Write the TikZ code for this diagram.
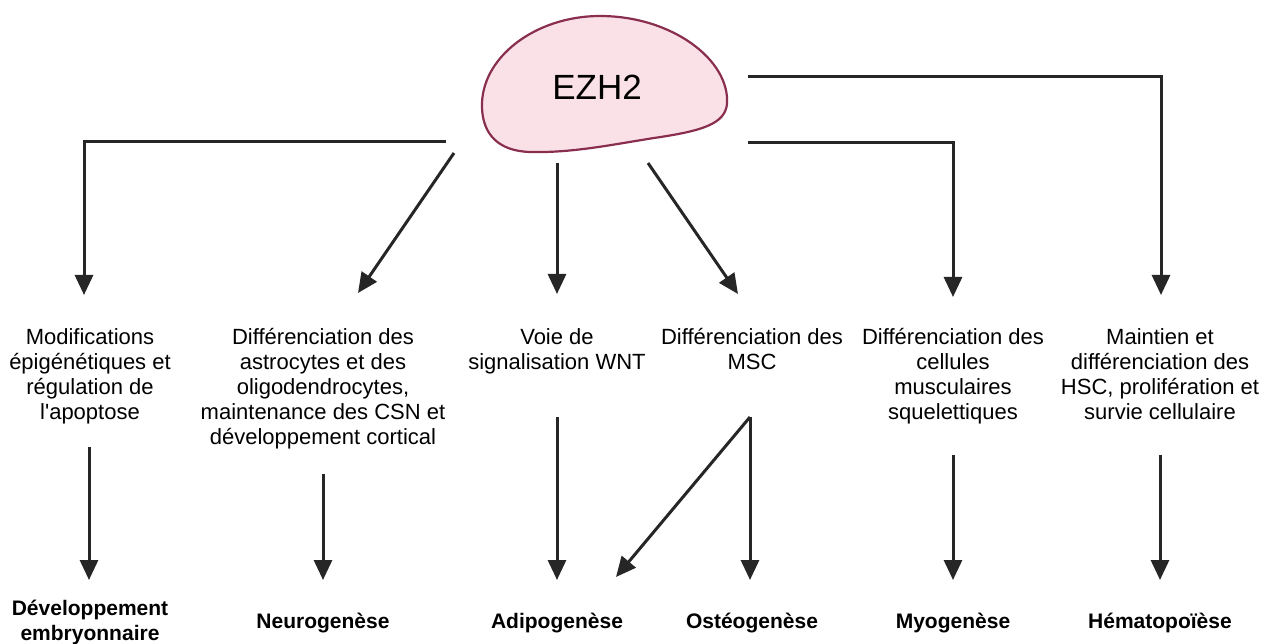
\documentclass[tikz,border=0pt]{standalone}
\usepackage{fontspec}
\setmainfont{Liberation Sans}
\usetikzlibrary{arrows.meta}
\definecolor{linec}{HTML}{262626}
\definecolor{blobfill}{HTML}{F9E1E7}
\definecolor{blobdraw}{HTML}{8A2E50}
\begin{document}
\begin{tikzpicture}[x=1pt,y=-1pt,
  conn/.style={draw=linec,line width=3pt,-{Triangle[width=18pt,length=20pt]}},
  lbl/.style={align=center,anchor=north,inner sep=0pt,font=\fontsize{22}{25}\selectfont,text=black},
  res/.style={align=center,inner sep=0pt,font=\fontsize{21}{25}\bfseries\selectfont,text=black}]
\useasboundingbox (0,0) rectangle (1270,644);
% blob
\path[fill=blobfill,draw=blobdraw,line width=2.2pt]
 (482,108) .. controls (480,58) and (535,16) .. (600,16)
 .. controls (672,16) and (730,60) .. (727,104)
 .. controls (725,124) and (702,131) .. (654,138)
 .. controls (610,145) and (572,153) .. (530,152)
 .. controls (498,151) and (483,134) .. (482,108);
\node[inner sep=0pt,font=\fontsize{35}{40}\selectfont] (ezh) at (597,87) {EZH2};
% start coordinates
\coordinate (s1) at (446,142);
\coordinate (c1) at (84,142);
\coordinate (s2) at (454,153);
\coordinate (s3) at (557,163);
\coordinate (s4) at (648,163);
\coordinate (s5) at (748,143);
\coordinate (c5) at (953,143);
\coordinate (s6) at (748,77);
\coordinate (c6) at (1161,77);
% label nodes
\node[lbl] (l1) at (90,328) {Modifications\\épigénétiques et\\régulation de\\l\textquotesingle apoptose};
\node[lbl] (l2) at (323,328) {Différenciation des\\astrocytes et des\\oligodendrocytes,\\maintenance des CSN et\\développement cortical};
\node[lbl] (l3) at (557,328) {Voie de\\signalisation WNT};
\node[lbl] (l4) at (752,328) {Différenciation des\\MSC};
\node[lbl] (l5) at (953,328) {Différenciation des\\cellules\\musculaires\\squelettiques};
\node[lbl] (l6) at (1160,328) {Maintien et\\différenciation des\\HSC, prolifération et\\survie cellulaire};
% tip coordinates first row
\coordinate (t1) at (84,295);
\coordinate (t2) at (358,293);
\coordinate (t3) at (557,294);
\coordinate (t4) at (738,294);
\coordinate (t5) at (953,297);
\coordinate (t6) at (1161,295);
\draw[conn] (s1) -- (c1) -- (t1);
\draw[conn] (s2) -- (t2);
\draw[conn] (s3) -- (t3);
\draw[conn] (s4) -- (t4);
\draw[conn] (s5) -- (c5) -- (t5);
\draw[conn] (s6) -- (c6) -- (t6);
% second row
\coordinate (u1) at (89,447);
\coordinate (u2) at (323,474);
\coordinate (u3) at (557,417);
\coordinate (u4) at (750,417);
\coordinate (u5) at (953,455);
\coordinate (u6) at (1160,455);
\coordinate (v1) at (89,580);
\coordinate (v2) at (323,580);
\coordinate (v3) at (557,580);
\coordinate (v4) at (750,580);
\coordinate (v34) at (616,577);
\coordinate (v5) at (953,580);
\coordinate (v6) at (1160,580);
\draw[conn] (u1) -- (v1);
\draw[conn] (u2) -- (v2);
\draw[conn] (u3) -- (v3);
\draw[conn] (u4) -- (v4);
\draw[conn] (u4) -- (v34);
\draw[conn] (u5) -- (v5);
\draw[conn] (u6) -- (v6);
% results
\node[res] (r1) at (90,622) {Développement\\embryonnaire};
\node[res] (r2) at (323,623) {Neurogenèse};
\node[res] (r3) at (557,623) {Adipogenèse};
\node[res] (r4) at (752,623) {Ostéogenèse};
\node[res] (r5) at (953,623) {Myogenèse};
\node[res] (r6) at (1160,623) {Hématopoïèse};
\end{tikzpicture}
\end{document}
